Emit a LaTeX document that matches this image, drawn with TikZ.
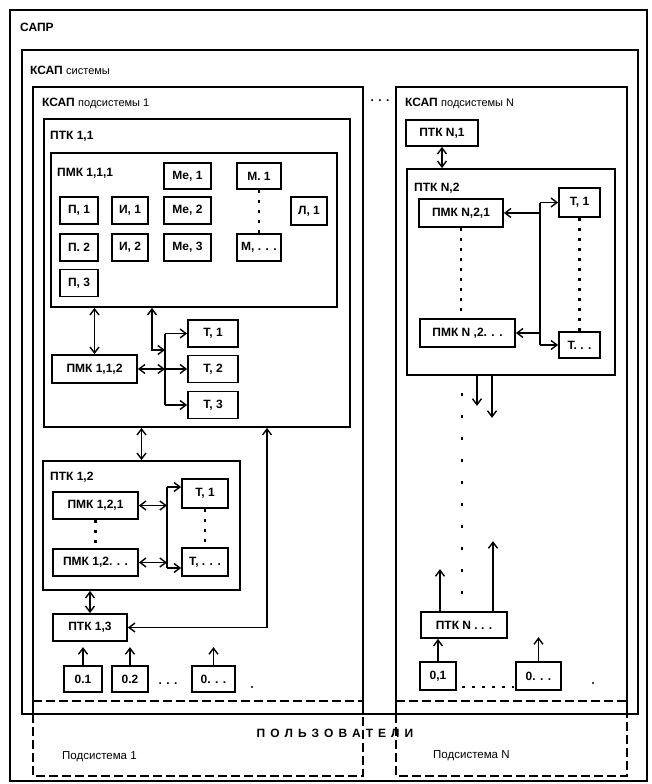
\documentclass[tikz,border=0pt]{standalone}
\usepackage{fontspec}
\setmainfont{Liberation Sans}
\usetikzlibrary{arrows.meta}
\newcommand{\lowtxt}[1]{{\fontsize{11}{13}\selectfont\mdseries #1}}

\begin{document}
\begin{tikzpicture}[x=1pt,y=-1pt,font=\fontsize{12}{14}\selectfont\bfseries,
    >={Straight Barb[length=6pt,width=9pt]},
    box/.style={draw,line width=1.7pt,inner sep=0pt},
    frame/.style={draw,line width=1.6pt},
    users/.style={line width=1.4pt,dash pattern=on 9pt off 4pt},
    link/.style={line width=1.4pt},
    dotline/.style={line width=2.2pt,dash pattern=on 3pt off 7pt},
    tag/.style={anchor=west,inner sep=0pt},
    small/.style={font=\fontsize{11.5}{13}\selectfont}]
  \useasboundingbox (0,0) rectangle (651,784);

  % outer frames
  \draw[frame] (10,10) rectangle (647,781);
  \draw[frame] (22,50) rectangle (638,714);
  \draw[frame] (33,714) -- (33,87) -- (363,87) -- (363,714);
  \draw[frame] (396,714) -- (396,87) -- (627,87) -- (627,714);
  \draw[users] (33,701) -- (363,701);
  \draw[users] (396,701) -- (627,701);
  \draw[users] (33,714) -- (33,776) -- (363,776) -- (363,714);
  \draw[users] (396,714) -- (396,776) -- (627,776) -- (627,714);

  \node[tag] (sapr) at (20,27) {САПР};
  \node[tag] (ksap) at (30,70) {КСАП \lowtxt{системы}};
  \node[tag] (ksap1) at (42,103) {КСАП \lowtxt{подсистемы 1}};
  \node (gap) at (380,101) {. . .};
  \node[tag] (ksapn) at (405,103) {КСАП \lowtxt{подсистемы N}};

  % subsystem 1
  \node[box,minimum width=306,minimum height=308] (ptk11) at (197,273) {};
  \node[tag] (ptk11l) at (50,136) {ПТК 1,1};
  \node[box,minimum width=286,minimum height=154] (pmk111) at (194,230) {};
  \node[tag] (pmk111l) at (57,173) {ПМК 1,1,1};
  \node[box,minimum width=47,minimum height=26] (me1) at (187.5,176) {Ме, 1};
  \node[box,minimum width=44,minimum height=26] (m1) at (259,176) {М. 1};
  \node[box,minimum width=38,minimum height=27] (p1) at (79,210.5) {П, 1};
  \node[box,minimum width=36,minimum height=27] (i1) at (130,210.5) {И, 1};
  \node[box,minimum width=47,minimum height=27] (me2) at (187.5,210.5) {Ме, 2};
  \node[box,minimum width=36,minimum height=28] (l1) at (309,211) {Л, 1};
  \node[box,minimum width=38,minimum height=27] (p2) at (79,247.5) {П. 2};
  \node[box,minimum width=36,minimum height=27] (i2) at (130,247.5) {И, 2};
  \node[box,minimum width=47,minimum height=27] (me3) at (187.5,247.5) {Ме, 3};
  \node[box,minimum width=44,minimum height=27] (mx) at (259,247.5) {М, . . .};
  \node[box,minimum width=38,minimum height=27] (p3) at (79,283) {П, 3};
  \draw[dotline] (m1.south) -- (mx.north);

  \node[box,minimum width=85,minimum height=28] (pmk112) at (94.5,369) {ПМК 1,1,2};
  \node[box,minimum width=50,minimum height=27] (t11) at (213,333.5) {Т, 1};
  \node[box,minimum width=50,minimum height=27] (t12) at (213,369) {Т, 2};
  \node[box,minimum width=50,minimum height=27] (t13) at (213,405) {Т, 3};
  \coordinate (bus1) at (165,350);
  \draw[link,<->] (pmk111.south -| pmk112.north) -- (pmk112.north);
  \draw[link,<->] (152,0 |- pmk111.south) |- (bus1);
  \draw[link] (t11.west -| bus1) -- (t13.west -| bus1);
  \draw[link,->] (t11.west -| bus1) -- (t11.west);
  \draw[link,<->] (pmk112.east) -- (pmk112.east -| bus1);
  \draw[link,->] (pmk112.east -| bus1) -- (t12.west);
  \draw[link,->] (t13.west -| bus1) -- (t13.west);

  \node[box,minimum width=197,minimum height=129] (ptk12) at (141.5,525.5) {};
  \node[tag] (ptk12l) at (50,477) {ПТК 1,2};
  \node[box,minimum width=85,minimum height=27] (pmk121) at (95.5,505.5) {ПМК 1,2,1};
  \node[box,minimum width=85,minimum height=27] (pmk12x) at (95.5,562.5) {ПМК 1,2. . .};
  \node[box,minimum width=46,minimum height=29] (t121) at (205,493.5) {Т, 1};
  \node[box,minimum width=46,minimum height=28] (t12x) at (205,562) {Т, . . .};
  \coordinate (bus2t) at (167,487);
  \coordinate (bus2b) at (167,568);
  \draw[link] (bus2t) -- (bus2b);
  \draw[link,->] (bus2t) -- (bus2t -| t121.west);
  \draw[link,->] (bus2b) -- (bus2b -| t12x.west);
  \draw[link,<->] (pmk121.east) -- (pmk121.east -| bus2t);
  \draw[link,<->] (pmk12x.east) -- (pmk12x.east -| bus2t);
  \draw[dotline] (pmk121.south) -- (pmk12x.north);
  \draw[dotline] (t121.south) -- (t12x.north);
  \draw[link,<->] (ptk11.south -| ptk12.north) -- (ptk12.north);

  \node[box,minimum width=74,minimum height=27] (ptk13) at (90,627.5) {ПТК 1,3};
  \draw[link,<->] (ptk12.south -| ptk13.north) -- (ptk13.north);
  \draw[link,<->] (ptk13.east) -| (267,0 |- ptk11.south);

  \node[box,minimum width=38,minimum height=26] (o11) at (83,679) {0.1};
  \node[box,minimum width=36,minimum height=26] (o12) at (130,679) {0.2};
  \node[box,minimum width=43,minimum height=26] (o1x) at (213.5,679) {0. . .};
  \draw[link,->] (o11.north) -- ++(0,-18);
  \draw[link,->] (o12.north) -- ++(0,-18);
  \draw[link,->] (o1x.north) -- ++(0,-18);
  \node (o1dots) at (168,684) {. . .};
  \fill (252,687) circle (1.2);

  % subsystem N
  \node[box,minimum width=72,minimum height=26] (ptkn1) at (442,133) {ПТК N,1};
  \node[box,minimum width=208,minimum height=206] (ptkn2) at (511,272) {};
  \node[tag] (ptkn2l) at (414,188) {ПТК N,2};
  \draw[link,<->] (ptkn1.south) -- (ptkn1.south |- ptkn2.north);
  \node[box,minimum width=84,minimum height=28] (pmkn21) at (461,213) {ПМК N,2,1};
  \node[box,minimum width=41,minimum height=29] (tn1) at (579.5,202.5) {Т, 1};
  \node[box,minimum width=95,minimum height=28] (pmkn2x) at (467.5,333) {ПМК N ,2. . .};
  \node[box,minimum width=41,minimum height=26] (tnx) at (579.5,345) {Т. . .};
  \coordinate (busn) at (540,250);
  \draw[link] (tn1.west -| busn) -- (tnx.west -| busn);
  \draw[link,->] (tn1.west -| busn) -- (tn1.west);
  \draw[link,->] (tnx.west -| busn) -- (tnx.west);
  \draw[link,->] (pmkn21.east -| busn) -- (pmkn21.east);
  \draw[link,->] (pmkn2x.east -| busn) -- (pmkn2x.east);
  \draw[dotline] (pmkn21.south) -- (pmkn21.south |- pmkn2x.north);
  \draw[dotline] (tn1.south) -- (tnx.north);

  \draw[link,->] (477,0 |- ptkn2.south) -- ++(0,30);
  \draw[link,->] (492,0 |- ptkn2.south) -- ++(0,42);
  \draw[dotline,dash pattern=on 3pt off 19pt] (462,393) -- (462,595);

  \node[box,minimum width=86,minimum height=26] (ptknx) at (464,625) {ПТК N . . .};
  \draw[link,->] (440,0 |- ptknx.north) -- ++(0,-42);
  \draw[link,->] (493,0 |- ptknx.north) -- ++(0,-70);
  \node[box,minimum width=36,minimum height=28] (on1) at (438,676) {0,1};
  \node[box,minimum width=45,minimum height=28] (onx) at (538.5,676) {0. . .};
  \draw[link,->] (on1.north) -- (on1.north |- ptknx.south);
  \draw[link,->] (onx.north) -- ++(0,-24);
  \draw[dotline,dash pattern=on 3pt off 7pt] (462,687) -- (514,687);
  \fill (593,683) circle (1.2);

  % users
  \node (users) at (335,733) {П\hspace{5pt}О\hspace{5pt}Л\hspace{5pt}Ь\hspace{5pt}З\hspace{5pt}О\hspace{5pt}В\hspace{5pt}А\hspace{5pt}Т\hspace{5pt}Е\hspace{5pt}Л\hspace{5pt}И};
  \node[tag,small] (sub1) at (62,757) {Подсистема 1};
  \node[tag,small] (subn) at (433,756) {Подсистема N};
\end{tikzpicture}
\end{document}
